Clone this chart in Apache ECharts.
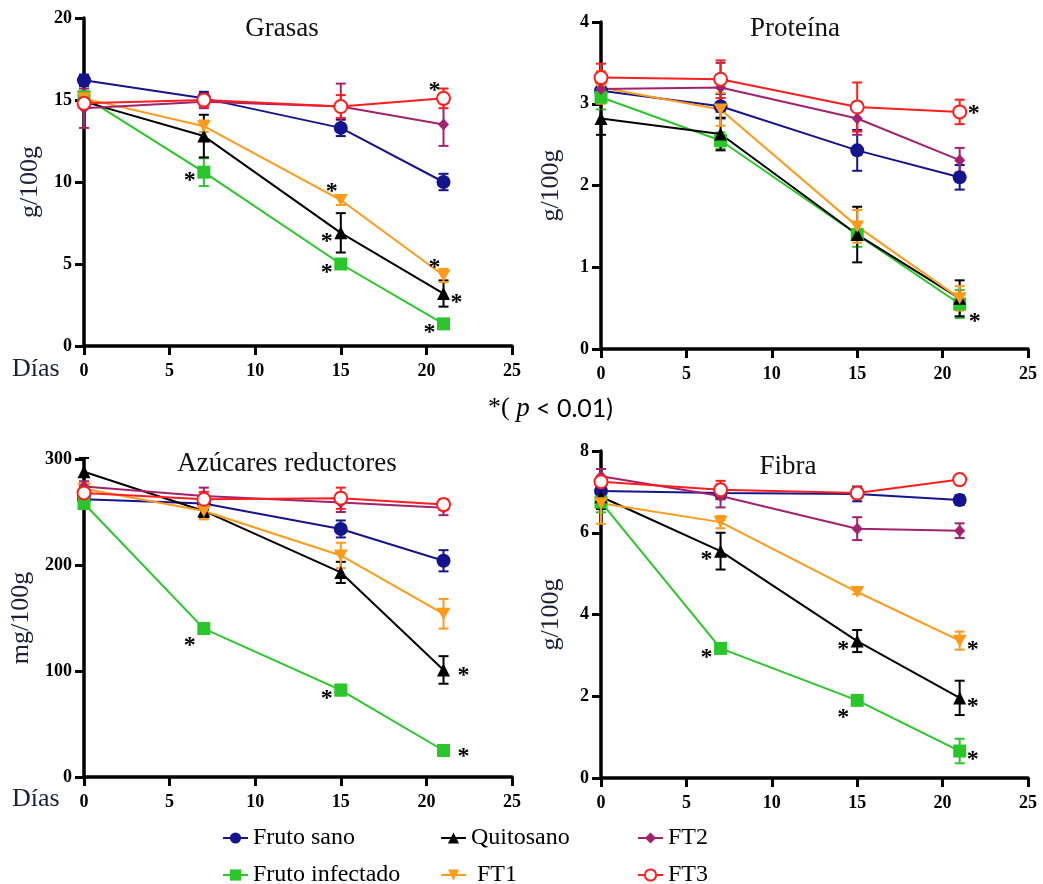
<!DOCTYPE html>
<html>
<head>
<meta charset="utf-8">
<script src="https://cdn.jsdelivr.net/npm/echarts@6/dist/echarts.min.js"></script>
<style>
html,body{margin:0;padding:0;background:#fff;}
#chart{width:1043px;height:884px;}
</style>
</head>
<body>
<div id="chart"></div>
<script>
// ---- data ----
const days = [0, 7, 15, 21];
const seriesNames = ['Fruto sano', 'Fruto infectado', 'Quitosano', 'FT1', 'FT2', 'FT3'];
const panelTitles = ['Grasas', 'Proteína', 'Azúcares reductores', 'Fibra'];
const panelUnits = ['g/100g', 'g/100g', 'mg/100g', 'g/100g'];
const xTicks = [0, 5, 10, 15, 20, 25];
const yMaxes = [20, 4, 300, 8];
const yIntervals = [5, 1, 100, 2];

// rows follow seriesNames order
const grasasMean = [
  [16.2, 15.1, 13.3, 10.0],
  [15.2, 10.6, 5.0, 1.35],
  [14.9, 12.8, 6.9, 3.2],
  [15.1, 13.4, 8.9, 4.3],
  [14.5, 14.9, 14.6, 13.5],
  [14.8, 15.0, 14.6, 15.1]
];
const grasasErr = [
  [0.35, 0.4, 0.5, 0.5],
  [0.3, 0.85, 0.2, 0.2],
  [0.3, 1.3, 1.2, 0.8],
  [0.3, 0.35, 0.3, 0.4],
  [1.2, 0.4, 1.4, 1.3],
  [0.3, 0.4, 0.7, 0.6]
];
const grasasSig = [
  ['', '', '', ''],
  ['', 'left', 'left', 'left'],
  ['', '', 'left', 'right'],
  ['', '', 'topleft', 'topleft'],
  ['', '', '', ''],
  ['', '', '', 'topleft']
];

const proteinaMean = [
  [3.16, 2.97, 2.43, 2.10],
  [3.08, 2.55, 1.40, 0.55],
  [2.82, 2.63, 1.40, 0.62],
  [3.20, 2.93, 1.50, 0.62],
  [3.18, 3.20, 2.82, 2.31],
  [3.32, 3.30, 2.96, 2.90]
];
const proteinaErr = [
  [0.15, 0.15, 0.25, 0.15],
  [0.15, 0.1, 0.15, 0.17],
  [0.2, 0.2, 0.34, 0.22],
  [0.2, 0.2, 0.2, 0.15],
  [0.12, 0.3, 0.2, 0.15],
  [0.17, 0.23, 0.3, 0.15]
];
const proteinaSig = [
  ['', '', '', ''],
  ['', '', '', 'rightdown'],
  ['', '', '', ''],
  ['', '', '', ''],
  ['', '', '', ''],
  ['', '', '', 'rightup']
];

const azucaresMean = [
  [262, 258, 234, 204],
  [258, 140, 82, 25],
  [288, 251, 193, 101],
  [272, 251, 209, 154],
  [274, 265, 259, 254],
  [268, 262, 263, 257]
];
const azucaresErr = [
  [5, 6, 8, 10],
  [4, 5, 5, 3],
  [13, 6, 10, 13],
  [5, 8, 12, 14],
  [5, 8, 9, 7],
  [5, 7, 10, 5]
];
const azucaresSig = [
  ['', '', '', ''],
  ['', 'bottomleft', 'left', 'farright'],
  ['', '', '', 'farright'],
  ['', '', '', ''],
  ['', '', '', ''],
  ['', '', '', '']
];

const fibraMean = [
  [7.02, 6.97, 6.95, 6.80],
  [6.75, 3.17, 1.90, 0.66],
  [6.88, 5.55, 3.35, 1.96],
  [6.72, 6.26, 4.55, 3.36],
  [7.38, 6.90, 6.10, 6.05],
  [7.25, 7.05, 6.97, 7.30]
];
const fibraErr = [
  [0.12, 0.15, 0.18, 0.12],
  [0.25, 0.1, 0.08, 0.3],
  [0.3, 0.45, 0.27, 0.42],
  [0.5, 0.15, 0.05, 0.22],
  [0.18, 0.28, 0.28, 0.18],
  [0.1, 0.22, 0.1, 0.05]
];
const fibraSig = [
  ['', '', '', ''],
  ['', 'left', 'bottomleft', 'right'],
  ['', 'left', 'left', 'right'],
  ['', '', '', 'right'],
  ['', '', '', ''],
  ['', '', '', '']
];

// ---- styling ----
const panelMeans = [grasasMean, proteinaMean, azucaresMean, fibraMean];
const panelErrs = [grasasErr, proteinaErr, azucaresErr, fibraErr];
const panelSigs = [grasasSig, proteinaSig, azucaresSig, fibraSig];

const colors = ['#14148f', '#2bc62b', '#000000', '#ff9a1a', '#a3226e', '#ff1e1e'];
const symbols = ['circle', 'rect', 'triangle', 'path://M0,0 L10,0 L5,9 Z', 'diamond', 'emptyCircle'];
const symbolSizes = [14, 13, 13, [14, 12], [11, 12], 13];

const grids = [
  {left: 84, top: 18, width: 428, height: 328},
  {left: 601, top: 22, width: 427, height: 327},
  {left: 84, top: 459, width: 428, height: 318},
  {left: 601, top: 451, width: 427, height: 327}
];
const nameGaps = [41, 37, 50, 37];
const titlePos = [[277, 24], [790, 24], [282, 459], [783, 462]];

const starOffsets = {
  left: [-14, 3], right: [13, 3], topleft: [-9, -14], rightup: [14, -4],
  rightdown: [15, 12], bottomleft: [-14, 11], farright: [20, 0]
};
const serif = '"Liberation Serif", "Times New Roman", serif';
const textColor = '#1b1f3a';

const xAxes = [], yAxes = [], series = [], titles = [];
grids.forEach((g, p) => {
  xAxes.push({
    gridIndex: p, type: 'value', min: 0, max: 25, interval: 5,
    axisLine: {show: true, lineStyle: {color: '#000', width: 3.5}},
    axisTick: {show: true, length: 9, lineStyle: {color: '#000', width: 3}},
    axisLabel: {margin: 16, color: '#000', fontFamily: serif, fontWeight: 'bold', fontSize: 18},
    splitLine: {show: false}
  });
  yAxes.push({
    gridIndex: p, type: 'value', min: 0, max: yMaxes[p], interval: yIntervals[p],
    name: panelUnits[p], nameLocation: 'middle', nameGap: nameGaps[p], nameRotate: 90,
    nameTextStyle: {fontFamily: serif, fontSize: 26, color: textColor},
    axisLine: {show: true, lineStyle: {color: '#000', width: 3.5}},
    axisTick: {show: true, length: 9, lineStyle: {color: '#000', width: 3}},
    axisLabel: {margin: 12, color: '#000', fontFamily: serif, fontWeight: 'bold', fontSize: 18},
    splitLine: {show: false}
  });
  titles.push({
    text: panelTitles[p], left: titlePos[p][0], top: titlePos[p][1],
    textAlign: 'center', textVerticalAlign: 'middle',
    textStyle: {fontFamily: serif, fontSize: 27, fontWeight: 'normal', color: '#111'}
  });
  seriesNames.forEach((name, s) => {
    const means = panelMeans[p][s];
    const errs = panelErrs[p][s];
    const sigs = panelSigs[p][s];
    // error bars
    series.push({
      type: 'custom', xAxisIndex: p, yAxisIndex: p, z: 2,
      encode: {x: 0, y: 1},
      data: days.map((d, i) => [d, means[i], errs[i]]),
      renderItem: function (params, api) {
        const x = api.value(0), y = api.value(1), e = api.value(2);
        const top = api.coord([x, y + e]);
        const bot = api.coord([x, y - e]);
        const w = 5;
        const st = {stroke: colors[s], lineWidth: 2};
        return {type: 'group', children: [
          {type: 'line', shape: {x1: top[0], y1: top[1], x2: bot[0], y2: bot[1]}, style: st},
          {type: 'line', shape: {x1: top[0] - w, y1: top[1], x2: top[0] + w, y2: top[1]}, style: st},
          {type: 'line', shape: {x1: bot[0] - w, y1: bot[1], x2: bot[0] + w, y2: bot[1]}, style: st}
        ]};
      }
    });
    // line + markers
    series.push({
      name: name, type: 'line', xAxisIndex: p, yAxisIndex: p, z: 3,
      symbol: symbols[s], symbolSize: symbolSizes[s],
      showAllSymbol: true,
      lineStyle: {color: colors[s], width: 2},
      itemStyle: {color: colors[s], borderColor: colors[s], borderWidth: s === 5 ? 2 : 0},
      label: {show: false},
      emphasis: {disabled: true},
      animation: false,
      data: days.map((d, i) => {
        const item = {value: [d, means[i]]};
        if (sigs[i]) {
          const o = starOffsets[sigs[i]];
          item.label = {
            show: true, formatter: '*', position: 'inside',
            offset: [o[0], o[1] + 6], color: '#000',
            fontFamily: serif, fontSize: 24, fontWeight: 'bold'
          };
        }
        return item;
      })
    });
  });
});

const legendText = {fontFamily: serif, fontSize: 24, color: '#000', lineHeight: 24};
const legendCommon = {
  orient: 'vertical', itemWidth: 25, itemHeight: 14, itemGap: 13,
  padding: 0, height: 80, textStyle: legendText, selectedMode: false
};
const legends = [
  Object.assign({}, legendCommon, {left: 222, top: 826, data: ['Fruto sano', 'Fruto infectado']}),
  Object.assign({}, legendCommon, {left: 440, top: 826, data: ['Quitosano', 'FT1'],
    formatter: n => n === 'FT1' ? ' FT1' : n}),
  Object.assign({}, legendCommon, {left: 637, top: 826, data: ['FT2', 'FT3']})
];

const chart = echarts.init(document.getElementById('chart'), null, {renderer: 'canvas'});
chart.setOption({
  backgroundColor: '#fff',
  animation: false,
  title: titles,
  grid: grids,
  xAxis: xAxes,
  yAxis: yAxes,
  legend: legends,
  series: series,
  graphic: [
    {type: 'text', left: 12, top: 356, style: {text: 'Días', fontFamily: serif, fontSize: 26, fill: textColor}},
    {type: 'text', left: 12, top: 786, style: {text: 'Días', fontFamily: serif, fontSize: 26, fill: textColor}},
    {type: 'text', left: 488, top: 395, style: {
      text: '{a|*( }{p|p}{b| < 0.01)}',
      rich: {
        a: {fontFamily: serif, fontSize: 26, color: '#111'},
        p: {fontFamily: serif, fontStyle: 'italic', fontSize: 27, color: '#111'},
        b: {fontFamily: 'Lato, "Open Sans", sans-serif', fontSize: 25, color: '#111'}
      }
    }}
  ]
});
</script>
</body>
</html>
